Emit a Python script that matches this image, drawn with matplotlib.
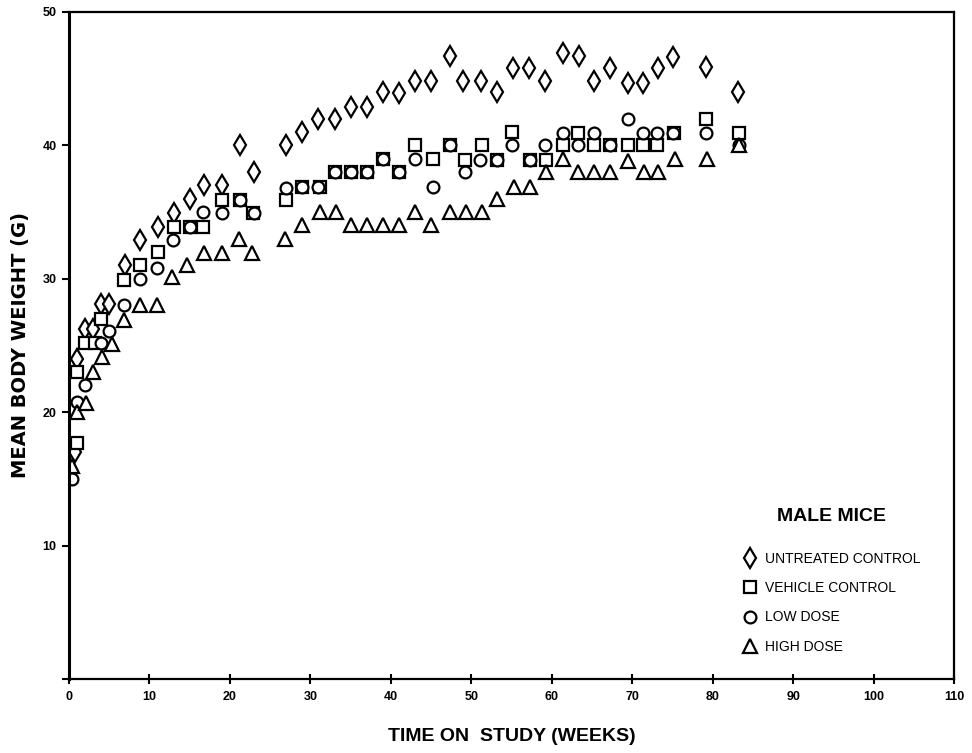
import numpy as np
import matplotlib
matplotlib.use('Agg')
import matplotlib.pyplot as plt

# Mean body weight data (male mice)
untreated_wk = [0.7, 1, 2, 3, 4, 5, 7, 8.8, 11, 13, 15, 16.8, 19, 21.2, 23, 27, 29, 31, 33, 35, 37,
                39, 41, 43, 45, 47.4, 49, 51.2, 53.2, 55.2, 57.2, 59.2, 61.4, 63.4, 65.3, 67.2,
                69.5, 71.4, 73.2, 75.1, 79.2, 83.2]
untreated_g = [17.0, 24.0, 26.2, 26.2, 28.1, 28.1, 31.0, 32.9, 33.9, 34.9, 36.0, 37.0, 37.0, 40.0,
               38.0, 40.0, 41.0, 42.0, 42.0, 42.9, 42.9, 44.0, 43.9, 44.8, 44.8, 46.7, 44.8, 44.8,
               44.0, 45.8, 45.8, 44.8, 46.9, 46.7, 44.8, 45.8, 44.7, 44.7, 45.8, 46.6, 45.9, 44.0]

vehicle_wk = [0.95, 1, 2, 3.2, 4, 6.8, 8.8, 11, 13, 15, 16.6, 19, 21.2, 22.9, 27, 29, 31.2, 33, 35,
              37, 39, 41, 43, 45.2, 47.4, 49.2, 51.3, 53.2, 55.1, 57.3, 59.3, 61.4, 63.3, 65.3,
              67.2, 69.5, 71.4, 73.1, 75.2, 79.2, 83.3]
vehicle_g = [17.7, 23.0, 25.2, 25.2, 27.0, 29.9, 31.0, 32.0, 33.9, 33.9, 33.9, 35.9, 35.9, 34.9,
             35.9, 36.9, 36.9, 38.0, 38.0, 38.0, 39.0, 38.0, 40.0, 39.0, 40.0, 38.9, 40.0, 38.9,
             41.0, 38.9, 38.9, 40.0, 40.9, 40.0, 40.0, 40.0, 40.0, 40.0, 40.9, 42.0, 40.9]

low_wk = [0.33, 0.95, 2, 4, 5, 6.8, 8.8, 10.9, 12.9, 15, 16.7, 19, 21.2, 23, 27, 29, 31, 33, 35, 37,
          39, 41, 43, 45.2, 47.4, 49.2, 51.1, 53.2, 55.1, 57.3, 59.2, 61.4, 63.3, 65.2, 67.2,
          69.5, 71.3, 73.1, 75.1, 79.2, 83.3]
low_g = [15.0, 20.8, 22.0, 25.2, 26.1, 28.0, 30.0, 30.8, 32.9, 33.9, 35.0, 34.9, 35.9, 34.9, 36.8,
         36.9, 36.9, 38.0, 38.0, 38.0, 39.0, 38.0, 39.0, 36.9, 40.0, 38.0, 38.9, 38.9, 40.0, 38.9,
         40.0, 40.9, 40.0, 40.9, 40.0, 42.0, 40.9, 40.9, 40.9, 40.9, 40.0]

high_wk = [0.4, 1, 2.1, 3, 4.1, 5.3, 6.8, 8.8, 10.9, 12.8, 14.7, 16.8, 19, 21.1, 22.8, 26.8, 29,
           31.2, 33.2, 35, 37, 39, 41, 43, 45, 47.4, 49.4, 51.3, 53.2, 55.3, 57.3, 59.3, 61.4,
           63.3, 65.2, 67.3, 69.5, 71.5, 73.2, 75.3, 79.3, 83.3]
high_g = [16.0, 20.0, 20.7, 23.0, 24.1, 25.1, 26.9, 28.0, 28.0, 30.1, 31.0, 31.9, 31.9, 33.0, 31.9,
          33.0, 34.0, 35.0, 35.0, 34.0, 34.0, 34.0, 34.0, 35.0, 34.0, 35.0, 35.0, 35.0, 36.0,
          36.9, 36.9, 38.0, 39.0, 38.0, 38.0, 38.0, 38.8, 38.0, 38.0, 39.0, 39.0, 40.0]

x_ticks = [0, 10, 20, 30, 40, 50, 60, 70, 80, 90, 100, 110]
y_ticks = [0, 10, 20, 30, 40, 50]
y_labels = ['', '10', '20', '30', '40', '50']

plt.rcParams['font.family'] = ['Liberation Sans', 'DejaVu Sans']

fig = plt.figure(figsize=(9.72, 7.53), dpi=100)
ax = fig.add_axes([0.071, 0.0983, 0.9105, 0.8858])

# open black markers, one shape per group
mk = dict(linestyle='none', markerfacecolor='white', markeredgecolor='black', markeredgewidth=1.6)
ax.plot(untreated_wk, untreated_g, marker='d', markersize=10, label='UNTREATED CONTROL', **mk)
ax.plot(vehicle_wk, vehicle_g, marker='s', markersize=8.3, label='VEHICLE CONTROL', **mk)
ax.plot(low_wk, low_g, marker='o', markersize=8.5, label='LOW DOSE', **mk)
ax.plot(high_wk, high_g, marker='^', markersize=9.5, label='HIGH DOSE', **mk)

ax.set_xlim(0, 110)
ax.set_ylim(0, 50)
ax.set_xticks(x_ticks)
ax.set_yticks(y_ticks)
ax.set_yticklabels(y_labels)
ax.tick_params(axis='x', direction='inout', length=7, width=1.5, pad=5, labelsize=9)
ax.tick_params(axis='y', direction='out', length=5, width=1.5, pad=4, labelsize=9)
for lab in ax.get_xticklabels() + ax.get_yticklabels():
    lab.set_fontweight('bold')
for s in ax.spines.values():
    s.set_linewidth(1.6)
ax.spines['left'].set_linewidth(2.2)

ax.set_xlabel('TIME ON  STUDY (WEEKS)', fontsize=14, fontweight='bold', labelpad=18)
ax.set_ylabel('MEAN BODY WEIGHT (G)', fontsize=14, fontweight='bold', labelpad=9,
              family='DejaVu Sans')

leg = ax.legend(loc='upper left', bbox_to_anchor=(0.7616, 0.2556), frameon=False,
                title='MALE MICE', title_fontproperties={'weight': 'bold', 'size': 14},
                fontsize=10, labelspacing=1.1, handlelength=1.0, handletextpad=0.6,
                borderpad=0, borderaxespad=0)
leg._legend_box.sep = 19

fig.savefig('out.png', dpi=100)
